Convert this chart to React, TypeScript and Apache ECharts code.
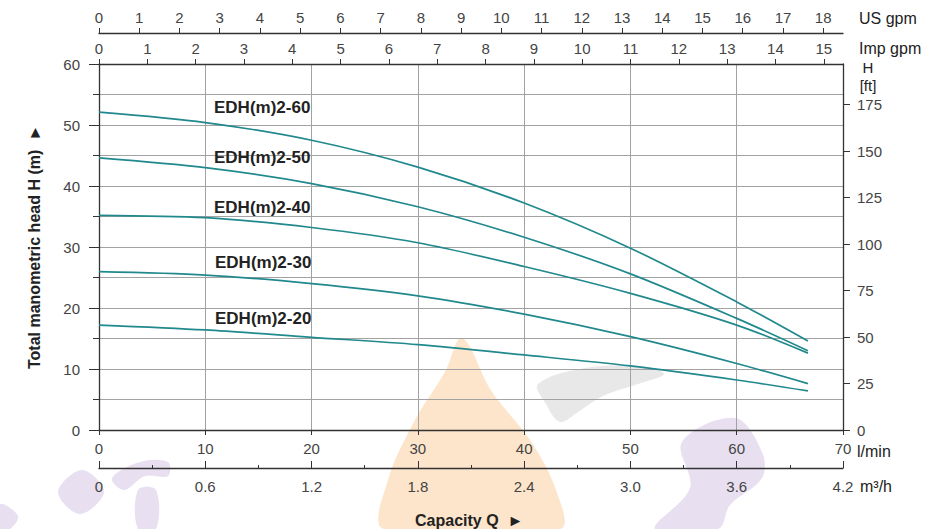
import React, { useEffect, useRef } from "react";
import * as echarts from "echarts";

// ---- data ----
const flowLmin = [0, 10, 20, 30, 40, 50, 60, 66.7];
const h60 = [52.1, 50.4, 47.5, 43.1, 37.2, 29.8, 21.0, 14.6];
const h50 = [44.6, 43.0, 40.4, 36.6, 31.6, 25.6, 18.3, 13.0];
const h40 = [35.2, 34.8, 33.2, 30.7, 26.8, 22.4, 17.2, 12.6];
const h30 = [25.95, 25.4, 24.0, 22.0, 19.0, 15.3, 10.9, 7.6];
const h20 = [17.2, 16.4, 15.2, 14.0, 12.3, 10.5, 8.2, 6.4];
const seriesNames = ["EDH(m)2-60", "EDH(m)2-50", "EDH(m)2-40", "EDH(m)2-30", "EDH(m)2-20"];
const usGpmTicks = [0, 1, 2, 3, 4, 5, 6, 7, 8, 9, 10, 11, 12, 13, 14, 15, 16, 17, 18];
const impGpmTicks = [0, 1, 2, 3, 4, 5, 6, 7, 8, 9, 10, 11, 12, 13, 14, 15];
const ftTicks = [0, 25, 50, 75, 100, 125, 150, 175];

const FONT = "'Liberation Sans', Arial, Helvetica, sans-serif";
const AXIS = "#333";
const GRID = "#a2a2a2";
const LABEL = "#444";
const CURVE = "#21898d";

export default function App() {
  const ref = useRef<HTMLDivElement>(null);
  useEffect(() => {
    if (!ref.current) return;
    const chart = echarts.init(ref.current, undefined, { renderer: "svg" });
    const allH = [h60, h50, h40, h30, h20];
    const labelPos = [
      [214, 107],
      [214, 157],
      [214, 207],
      [215, 262],
      [215, 318],
    ];
    const txt = (text: string, x: number, y: number, size: number, opts: any = {}) => ({
      type: "text",
      x,
      y,
      z: 10,
      silent: true,
      rotation: opts.rotation || 0,
      style: {
        text,
        fill: opts.fill || "#222",
        font: `${opts.bold ? "bold " : ""}${size}px ${FONT}`,
        align: opts.align || "left",
        verticalAlign: "middle",
        textAlign: opts.align || "left",
        textVerticalAlign: "middle",
      },
    });
    const shape = (points: number[][], fill: string) => ({
      type: "polygon",
      z: -5,
      silent: true,
      shape: { points, smooth: 0.35 },
      style: { fill },
    });
    const PURPLE = "rgba(200,178,222,0.42)";
    const commonLine = { show: true, onZero: false, lineStyle: { color: AXIS, width: 1.3 } };
    const labelStyle = { color: LABEL, fontSize: 15, fontFamily: FONT };

    chart.setOption({
      animation: false,
      backgroundColor: "#fff",
      grid: { left: 99, right: 85, top: 64, bottom: 99, containLabel: false },
      xAxis: [
        {
          type: "value",
          position: "bottom",
          min: 0,
          max: 70,
          interval: 10,
          axisLine: commonLine,
          axisTick: { show: true, length: 5, lineStyle: { color: AXIS } },
          axisLabel: { ...labelStyle, margin: 11 },
          splitLine: { show: true, lineStyle: { color: GRID, width: 1 } },
        },
        {
          type: "value",
          position: "bottom",
          offset: 38,
          min: 0,
          max: 4.2,
          interval: 0.6,
          axisLine: commonLine,
          axisTick: { show: true, inside: true, length: 7, lineStyle: { color: AXIS } },
          minorTick: { show: true, splitNumber: 2, length: 3, lineStyle: { color: AXIS } },
          axisLabel: {
            ...labelStyle,
            margin: 11,
            formatter: (v: number) => (v === 0 ? "0" : v.toFixed(1)),
          },
          splitLine: { show: false },
        },
        {
          type: "value",
          position: "top",
          min: 0,
          max: 70 / 4.54609,
          interval: 1,
          axisLine: commonLine,
          axisTick: { show: true, length: 5, customValues: impGpmTicks, lineStyle: { color: AXIS } },
          axisLabel: { ...labelStyle, margin: 8, customValues: impGpmTicks },
          splitLine: { show: false },
        },
        {
          type: "value",
          position: "top",
          offset: 31,
          min: 0,
          max: 70 / 3.78541,
          interval: 1,
          axisLine: commonLine,
          axisTick: { show: true, length: 5, customValues: usGpmTicks, lineStyle: { color: AXIS } },
          axisLabel: { ...labelStyle, margin: 8, customValues: usGpmTicks },
          splitLine: { show: false },
        },
      ],
      yAxis: [
        {
          type: "value",
          position: "left",
          min: 0,
          max: 60,
          interval: 10,
          axisLine: commonLine,
          axisTick: { show: true, length: 10, lineStyle: { color: AXIS } },
          minorTick: { show: true, splitNumber: 2, length: 6, lineStyle: { color: AXIS } },
          axisLabel: { ...labelStyle, margin: 19 },
          splitLine: { show: true, lineStyle: { color: GRID, width: 1 } },
          minorSplitLine: { show: true, lineStyle: { color: GRID, width: 1 } },
        },
        {
          type: "value",
          position: "right",
          min: 0,
          max: 60 / 0.3048,
          interval: 25,
          axisLine: commonLine,
          axisTick: { show: true, length: 7, customValues: ftTicks, lineStyle: { color: AXIS } },
          axisLabel: { ...labelStyle, margin: 14, customValues: ftTicks },
          splitLine: { show: false },
        },
      ],
      series: allH.map((hs, i) => ({
        name: seriesNames[i],
        type: "line",
        xAxisIndex: 0,
        yAxisIndex: 0,
        smooth: 0.3,
        symbol: "none",
        z: 5,
        lineStyle: { color: CURVE, width: 1.7 },
        data: flowLmin.map((q, j) => [q, hs[j]]),
      })),
      graphic: [
        // watermark shapes
        shape(
          [
            [462, 338],
            [492, 392],
            [530, 440],
            [556, 490],
            [560, 529],
            [384, 529],
            [388, 480],
            [415, 420],
            [445, 372],
          ],
          "rgba(250,192,130,0.42)"
        ),
        shape(
          [
            [538, 384],
            [585, 368],
            [640, 366],
            [664, 374],
            [638, 384],
            [603, 396],
            [578, 412],
            [560, 422],
            [546, 404],
          ],
          "rgba(185,185,185,0.32)"
        ),
        shape(
          [
            [682, 442],
            [735, 418],
            [762, 452],
            [762, 478],
            [730, 505],
            [718, 529],
            [655, 529],
            [690, 488],
          ],
          PURPLE
        ),
        shape(
          [
            [58, 492],
            [82, 470],
            [104, 492],
            [80, 514],
          ],
          PURPLE
        ),
        shape(
          [
            [112, 478],
            [140, 462],
            [168, 462],
            [168, 476],
            [145, 476],
            [124, 490],
          ],
          PURPLE
        ),
        shape(
          [
            [138, 490],
            [156, 490],
            [156, 529],
            [138, 529],
          ],
          PURPLE
        ),
        shape(
          [
            [0, 504],
            [18, 516],
            [10, 529],
            [0, 529],
          ],
          PURPLE
        ),
        // curve labels
        ...seriesNames.map((n, i) => txt(n, labelPos[i][0], labelPos[i][1], 17, { bold: true })),
        // unit labels
        txt("US gpm", 859, 18, 16),
        txt("Imp gpm", 859, 48, 16),
        txt("H", 868, 67, 15, { align: "center" }),
        txt("[ft]", 868, 85, 15, { align: "center" }),
        txt("l/min", 857, 451, 16),
        txt("m\u00b3/h", 860, 486, 16),
        txt("Capacity Q  \u25ba", 415, 520, 16, { bold: true }),
        txt("Total manometric head H (m)  \u25ba", 34, 247, 16, {
          bold: true,
          align: "center",
          rotation: Math.PI / 2,
        }),
      ],
    });
    return () => chart.dispose();
  }, []);
  return (
    <div
      ref={ref}
      style={{ position: "fixed", left: 0, top: 0, width: 928, height: 529, background: "#fff" }}
    />
  );
}
